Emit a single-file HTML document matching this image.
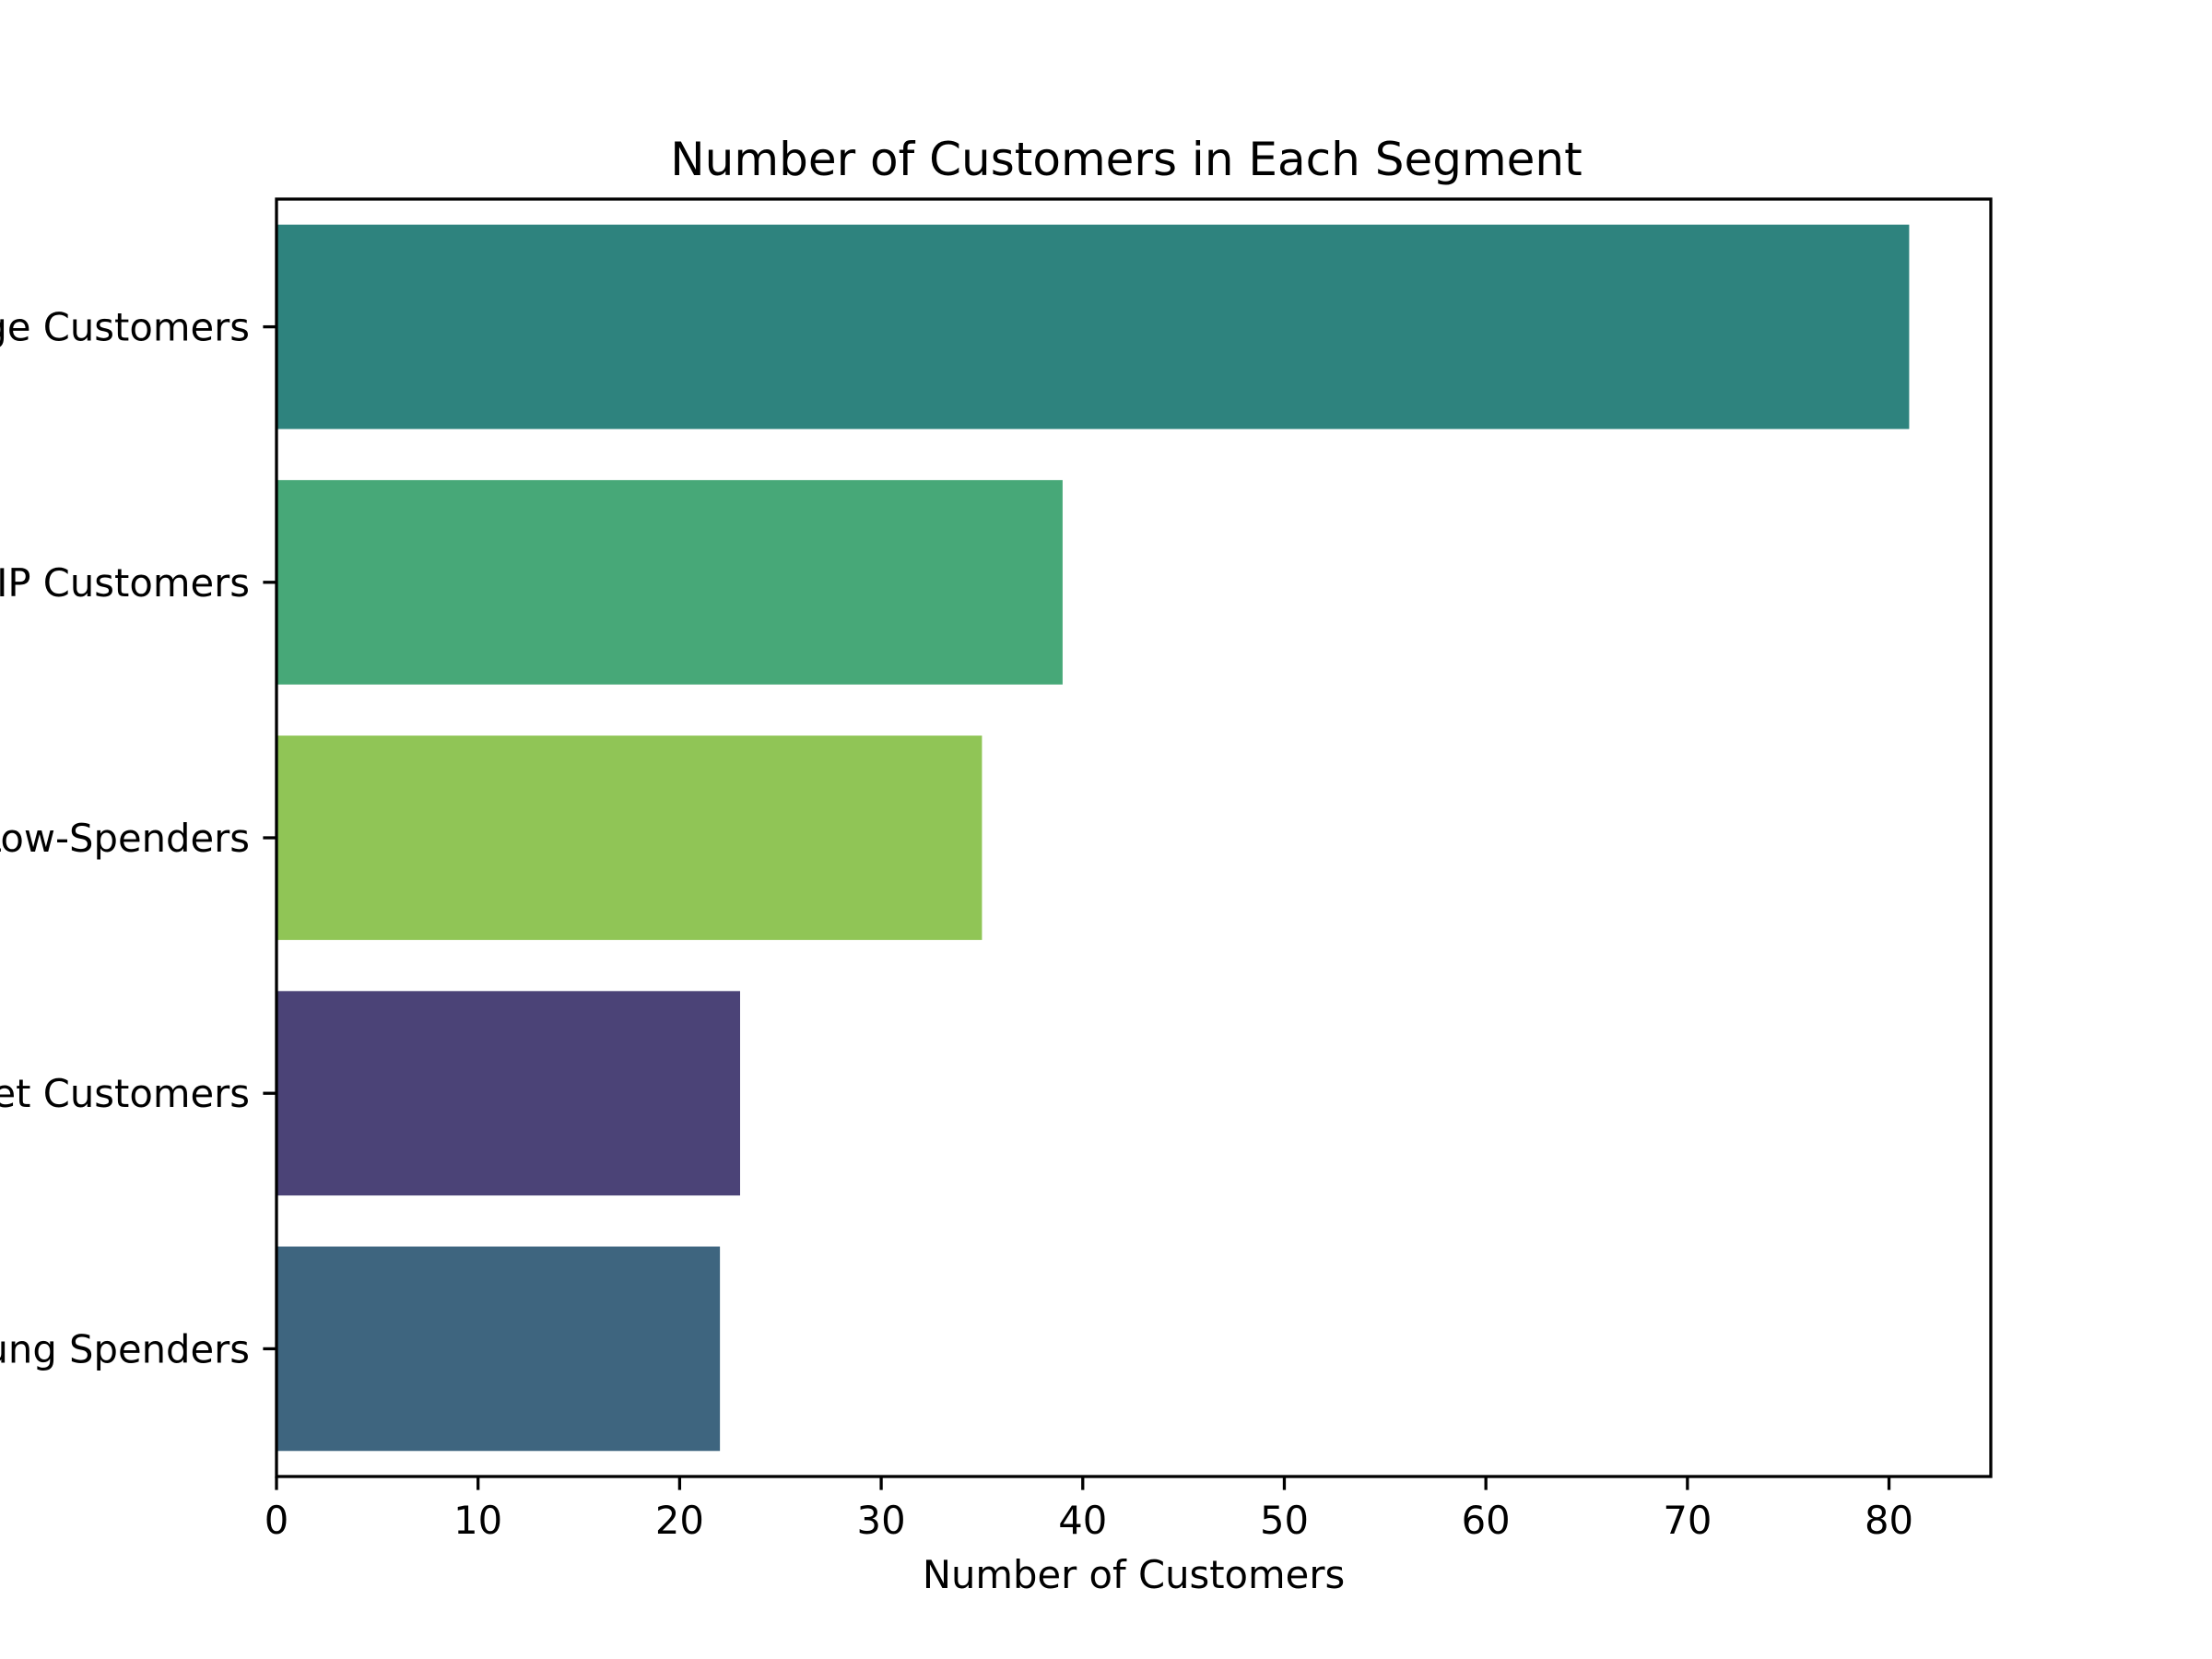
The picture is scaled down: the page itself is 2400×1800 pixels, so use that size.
<!DOCTYPE html>
<html><head><meta charset="utf-8"><style>html,body{margin:0;padding:0;background:#fff}svg{display:block}text{font-family:"DejaVu Sans","Liberation Sans",sans-serif;fill:#000}</style></head>
<body>
<svg id="chart" width="2400" height="1800" viewBox="0 0 2400 1800" xmlns="http://www.w3.org/2000/svg">
<rect width="2400" height="1800" fill="#fff"/>
<text x="1222" y="190" font-size="50" text-anchor="middle">Number of Customers in Each Segment</text>
<text x="1230" y="1723" font-size="41.7" text-anchor="middle">Number of Customers</text>
<g id="bars"></g>
<g id="axes"></g>
</svg>
<script>
const categories = ["Average Customers", "VIP Customers", "Low-Spenders", "Budget Customers", "Young Spenders"];
const values = [81, 39, 35, 23, 22];
const colors = ["#2e837e", "#47a878", "#90c556", "#4b4377", "#3e657f"];
const xTicks = [0, 10, 20, 30, 40, 50, 60, 70, 80];

const L = 300, R = 2160, T = 216, B = 1602;
const xMax = Math.max(...values) * 1.05;
const xs = v => L + (v / xMax) * (R - L);
const band = (B - T) / categories.length;
const yc = i => T + band * (i + 0.5);
const NS = "http://www.w3.org/2000/svg";
const bars = document.getElementById('bars');
const axes = document.getElementById('axes');
function mk(tag, attrs, parent) { const e = document.createElementNS(NS, tag); for (const k in attrs) e.setAttribute(k, attrs[k]); parent.appendChild(e); return e; }

categories.forEach((c, i) => {
  const r = mk('rect', {x: xs(0), y: yc(i) - band * 0.4, width: xs(values[i]) - xs(0), height: band * 0.8, fill: colors[i]}, bars);
  
  
  const t = mk('line', {x1: L - 14.6, x2: L, y1: yc(i), y2: yc(i), stroke: '#000', 'stroke-width': 3.3}, axes);
  
  
  const lb = mk('text', {x: L - 29, y: yc(i) + 15, 'font-size': 41.7, 'text-anchor': 'end'}, axes);
  lb.textContent = c;
  
  
});
xTicks.forEach(v => {
  const t = mk('line', {x1: xs(v), x2: xs(v), y1: B, y2: B + 14.6, stroke: '#000', 'stroke-width': 3.3}, axes);
  
  
  const lb = mk('text', {x: xs(v), y: B + 62, 'font-size': 41.7, 'text-anchor': 'middle'}, axes);
  lb.textContent = v;
  
  
});
const frame = mk('rect', {x: L, y: T, width: R - L, height: B - T, fill: 'none', stroke: '#000', 'stroke-width': 3.3}, axes);


</script>
</body></html>
